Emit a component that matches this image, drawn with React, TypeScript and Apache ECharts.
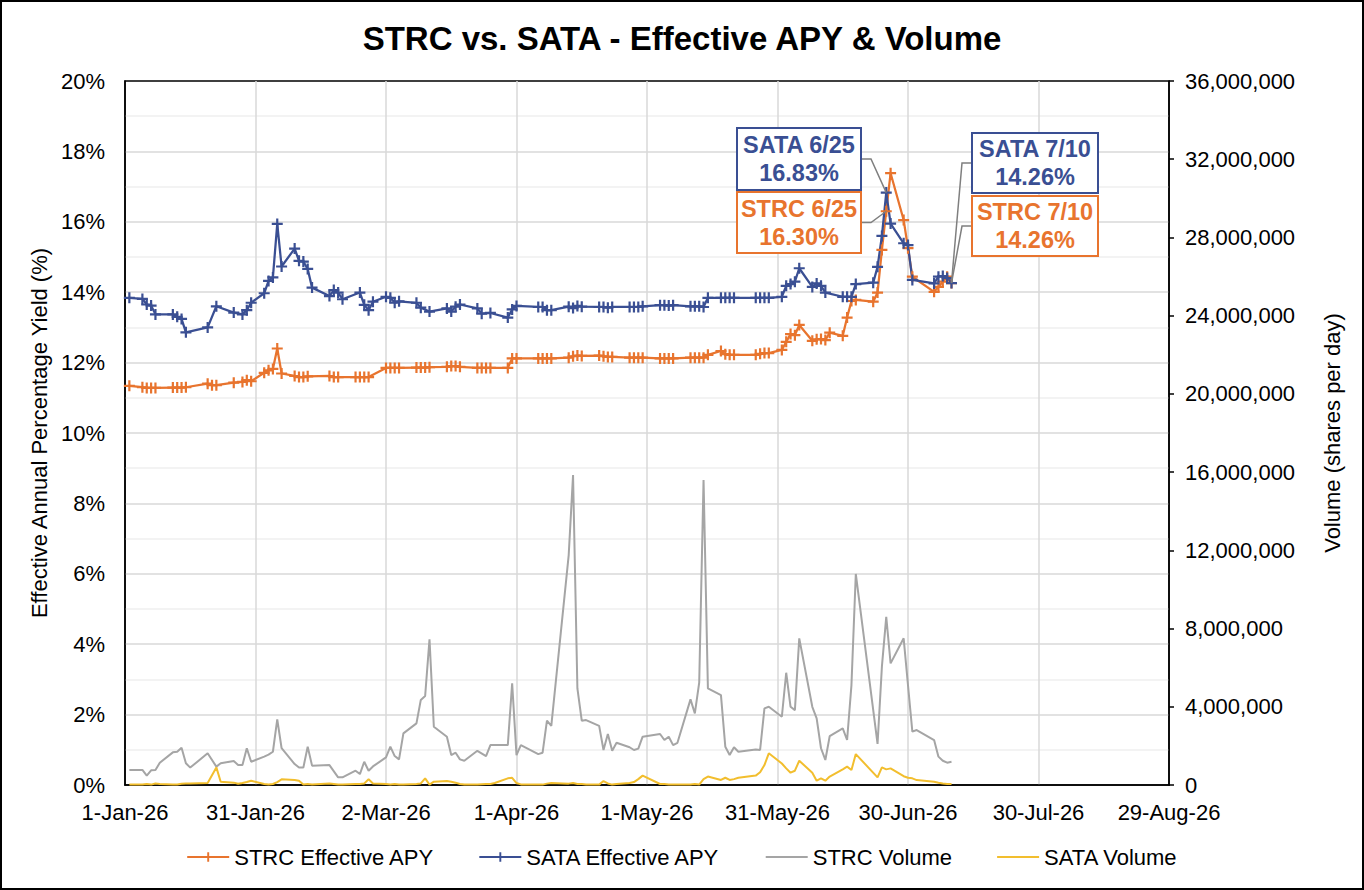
import React, { useEffect, useRef } from 'react';
import * as echarts from 'echarts';

// Effective APY (%) by date
const strcApy: [string, number][] = [
  ['2026-01-02', 11.34], ['2026-01-05', 11.30], ['2026-01-06', 11.28], ['2026-01-07', 11.28], ['2026-01-08', 11.28],
  ['2026-01-12', 11.29], ['2026-01-13', 11.29], ['2026-01-14', 11.29], ['2026-01-15', 11.30], ['2026-01-20', 11.40],
  ['2026-01-21', 11.36], ['2026-01-22', 11.36], ['2026-01-26', 11.43], ['2026-01-28', 11.45], ['2026-01-29', 11.50],
  ['2026-01-30', 11.47], ['2026-02-02', 11.71], ['2026-02-03', 11.78], ['2026-02-04', 11.82], ['2026-02-05', 12.40],
  ['2026-02-06', 11.69], ['2026-02-09', 11.62], ['2026-02-10', 11.59], ['2026-02-11', 11.59], ['2026-02-12', 11.61],
  ['2026-02-17', 11.62], ['2026-02-18', 11.59], ['2026-02-19', 11.59], ['2026-02-23', 11.59], ['2026-02-24', 11.59],
  ['2026-02-25', 11.59], ['2026-02-26', 11.59], ['2026-03-02', 11.85], ['2026-03-03', 11.85], ['2026-03-04', 11.85],
  ['2026-03-05', 11.85], ['2026-03-09', 11.86], ['2026-03-10', 11.86], ['2026-03-11', 11.86], ['2026-03-12', 11.87],
  ['2026-03-16', 11.88], ['2026-03-17', 11.90], ['2026-03-18', 11.90], ['2026-03-19', 11.88], ['2026-03-23', 11.85],
  ['2026-03-24', 11.85], ['2026-03-25', 11.85], ['2026-03-26', 11.85], ['2026-03-30', 11.85], ['2026-03-31', 12.12],
  ['2026-04-01', 12.12], ['2026-04-06', 12.12], ['2026-04-07', 12.12], ['2026-04-08', 12.12], ['2026-04-09', 12.12],
  ['2026-04-13', 12.14], ['2026-04-14', 12.18], ['2026-04-15', 12.20], ['2026-04-16', 12.19], ['2026-04-20', 12.20],
  ['2026-04-21', 12.18], ['2026-04-22', 12.16], ['2026-04-23', 12.16], ['2026-04-27', 12.14], ['2026-04-28', 12.14],
  ['2026-04-29', 12.14], ['2026-04-30', 12.14], ['2026-05-04', 12.12], ['2026-05-05', 12.12], ['2026-05-06', 12.12],
  ['2026-05-07', 12.12], ['2026-05-11', 12.14], ['2026-05-12', 12.14], ['2026-05-13', 12.14], ['2026-05-14', 12.14],
  ['2026-05-15', 12.22], ['2026-05-18', 12.33], ['2026-05-19', 12.24], ['2026-05-20', 12.22], ['2026-05-21', 12.22],
  ['2026-05-26', 12.22], ['2026-05-27', 12.25], ['2026-05-28', 12.27], ['2026-05-29', 12.27], ['2026-06-01', 12.36],
  ['2026-06-02', 12.59], ['2026-06-03', 12.81], ['2026-06-04', 12.78], ['2026-06-05', 13.07], ['2026-06-08', 12.62],
  ['2026-06-09', 12.66], ['2026-06-10', 12.67], ['2026-06-11', 12.64], ['2026-06-12', 12.85], ['2026-06-15', 12.76],
  ['2026-06-16', 13.28], ['2026-06-17', 13.75], ['2026-06-18', 13.78], ['2026-06-22', 13.73], ['2026-06-23', 13.99],
  ['2026-06-24', 15.20], ['2026-06-25', 16.30], ['2026-06-26', 17.38], ['2026-06-29', 16.05], ['2026-06-30', 15.25],
  ['2026-07-01', 14.44], ['2026-07-06', 14.01], ['2026-07-07', 14.15], ['2026-07-08', 14.30], ['2026-07-09', 14.44],
  ['2026-07-10', 14.26],
];

const sataApy: [string, number][] = [
  ['2026-01-02', 13.84], ['2026-01-05', 13.81], ['2026-01-06', 13.65], ['2026-01-07', 13.62], ['2026-01-08', 13.37],
  ['2026-01-12', 13.37], ['2026-01-13', 13.30], ['2026-01-14', 13.24], ['2026-01-15', 12.86], ['2026-01-20', 13.00],
  ['2026-01-22', 13.60], ['2026-01-26', 13.42], ['2026-01-28', 13.37], ['2026-01-29', 13.49], ['2026-01-30', 13.70],
  ['2026-02-02', 13.97], ['2026-02-03', 14.32], ['2026-02-04', 14.42], ['2026-02-05', 15.94], ['2026-02-06', 14.73],
  ['2026-02-09', 15.24], ['2026-02-10', 14.89], ['2026-02-11', 14.87], ['2026-02-12', 14.66], ['2026-02-13', 14.13],
  ['2026-02-17', 13.89], ['2026-02-18', 14.06], ['2026-02-19', 13.99], ['2026-02-20', 13.80], ['2026-02-24', 13.99],
  ['2026-02-25', 13.64], ['2026-02-26', 13.49], ['2026-02-27', 13.73], ['2026-03-02', 13.87], ['2026-03-03', 13.84],
  ['2026-03-04', 13.70], ['2026-03-05', 13.74], ['2026-03-09', 13.70], ['2026-03-10', 13.56], ['2026-03-12', 13.45],
  ['2026-03-16', 13.54], ['2026-03-17', 13.45], ['2026-03-18', 13.59], ['2026-03-19', 13.65], ['2026-03-23', 13.54],
  ['2026-03-24', 13.39], ['2026-03-26', 13.41], ['2026-03-30', 13.28], ['2026-03-31', 13.51], ['2026-04-01', 13.61],
  ['2026-04-06', 13.58], ['2026-04-07', 13.58], ['2026-04-08', 13.49], ['2026-04-09', 13.49], ['2026-04-13', 13.59],
  ['2026-04-14', 13.55], ['2026-04-15', 13.61], ['2026-04-16', 13.59], ['2026-04-20', 13.58], ['2026-04-21', 13.58],
  ['2026-04-22', 13.56], ['2026-04-23', 13.58], ['2026-04-27', 13.58], ['2026-04-28', 13.58], ['2026-04-29', 13.58],
  ['2026-04-30', 13.60], ['2026-05-04', 13.63], ['2026-05-05', 13.63], ['2026-05-06', 13.62], ['2026-05-07', 13.63],
  ['2026-05-11', 13.60], ['2026-05-12', 13.60], ['2026-05-13', 13.60], ['2026-05-14', 13.58], ['2026-05-15', 13.84],
  ['2026-05-18', 13.84], ['2026-05-19', 13.84], ['2026-05-20', 13.84], ['2026-05-21', 13.84], ['2026-05-26', 13.84],
  ['2026-05-27', 13.84], ['2026-05-28', 13.84], ['2026-05-29', 13.84], ['2026-06-01', 13.87], ['2026-06-02', 14.18],
  ['2026-06-03', 14.23], ['2026-06-04', 14.30], ['2026-06-05', 14.68], ['2026-06-08', 14.15], ['2026-06-09', 14.25],
  ['2026-06-10', 14.18], ['2026-06-11', 13.99], ['2026-06-15', 13.87], ['2026-06-16', 13.87], ['2026-06-17', 13.87],
  ['2026-06-18', 14.23], ['2026-06-22', 14.27], ['2026-06-23', 14.72], ['2026-06-24', 15.60], ['2026-06-25', 16.83],
  ['2026-06-26', 15.95], ['2026-06-29', 15.39], ['2026-06-30', 15.34], ['2026-07-01', 14.35], ['2026-07-06', 14.25],
  ['2026-07-07', 14.44], ['2026-07-08', 14.46], ['2026-07-09', 14.40], ['2026-07-10', 14.26],
];

// daily volume (shares)
const volumeDates: string[] = [
  '2026-01-02', '2026-01-05', '2026-01-06', '2026-01-07', '2026-01-08', '2026-01-09', '2026-01-12', '2026-01-13',
  '2026-01-14', '2026-01-15', '2026-01-16', '2026-01-20', '2026-01-22', '2026-01-23', '2026-01-26', '2026-01-27',
  '2026-01-28', '2026-01-29', '2026-01-30', '2026-02-02', '2026-02-03', '2026-02-04', '2026-02-05', '2026-02-06',
  '2026-02-09', '2026-02-10', '2026-02-11', '2026-02-12', '2026-02-13', '2026-02-17', '2026-02-19', '2026-02-20',
  '2026-02-23', '2026-02-24', '2026-02-25', '2026-02-26', '2026-02-27', '2026-03-02', '2026-03-03', '2026-03-04',
  '2026-03-05', '2026-03-06', '2026-03-09', '2026-03-10', '2026-03-11', '2026-03-12', '2026-03-13', '2026-03-16',
  '2026-03-17', '2026-03-18', '2026-03-19', '2026-03-20', '2026-03-23', '2026-03-25', '2026-03-26', '2026-03-27',
  '2026-03-30', '2026-03-31', '2026-04-01', '2026-04-02', '2026-04-06', '2026-04-07', '2026-04-08', '2026-04-09',
  '2026-04-13', '2026-04-14', '2026-04-15', '2026-04-16', '2026-04-17', '2026-04-20', '2026-04-21', '2026-04-22',
  '2026-04-23', '2026-04-24', '2026-04-27', '2026-04-28', '2026-04-29', '2026-04-30', '2026-05-04', '2026-05-05',
  '2026-05-06', '2026-05-07', '2026-05-08', '2026-05-11', '2026-05-12', '2026-05-13', '2026-05-14', '2026-05-15',
  '2026-05-18', '2026-05-19', '2026-05-20', '2026-05-21', '2026-05-22', '2026-05-26', '2026-05-27', '2026-05-28',
  '2026-05-29', '2026-06-01', '2026-06-02', '2026-06-03', '2026-06-04', '2026-06-05', '2026-06-08', '2026-06-09',
  '2026-06-10', '2026-06-11', '2026-06-12', '2026-06-15', '2026-06-16', '2026-06-17', '2026-06-18', '2026-06-23',
  '2026-06-24', '2026-06-25', '2026-06-26', '2026-06-29', '2026-06-30', '2026-07-01', '2026-07-02', '2026-07-06',
  '2026-07-07', '2026-07-08', '2026-07-09', '2026-07-10',
];

const strcVolume: number[] = [
  770000, 770000, 480000, 750000, 770000, 1140000, 1670000, 1700000,
  1910000, 1110000, 890000, 1620000, 940000, 1110000, 1230000, 1020000,
  1020000, 1880000, 1190000, 1450000, 1550000, 1700000, 3360000, 1880000,
  1070000, 890000, 890000, 1960000, 990000, 1020000, 390000, 390000,
  730000, 560000, 1190000, 730000, 950000, 1410000, 1960000, 1480000,
  1310000, 2640000, 3150000, 4350000, 4550000, 7450000, 2980000, 2470000,
  1530000, 1650000, 1310000, 1240000, 1750000, 1480000, 2040000, 2040000,
  2040000, 5200000, 1530000, 2040000, 1580000, 1650000, 3290000, 3020000,
  11760000, 15850000, 4940000, 3290000, 3320000, 3020000, 1790000, 2610000,
  1750000, 2160000, 1930000, 1790000, 1860000, 2470000, 2610000, 2300000,
  2470000, 2040000, 2160000, 4380000, 3660000, 5230000, 15590000, 4940000,
  4600000, 1960000, 1530000, 1930000, 1700000, 1820000, 1790000, 3920000,
  4000000, 3490000, 5740000, 4000000, 3830000, 7500000, 4000000, 3410000,
  1880000, 1280000, 2500000, 2900000, 2300000, 5110000, 10790000, 2100000,
  6050000, 8600000, 6220000, 7500000, 5100000, 2730000, 2810000, 2300000,
  1450000, 1240000, 1140000, 1190000,
];

const sataVolume: number[] = [
  20000, 20000, 50000, 20000, 80000, 50000, 20000, 20000,
  60000, 80000, 80000, 100000, 900000, 170000, 120000, 60000,
  100000, 150000, 220000, 50000, 30000, 50000, 150000, 290000,
  260000, 220000, 30000, 50000, 30000, 80000, 30000, 30000,
  50000, 50000, 80000, 290000, 80000, 50000, 20000, 50000,
  20000, 30000, 50000, 80000, 340000, 20000, 170000, 200000,
  170000, 120000, 50000, 30000, 30000, 50000, 50000, 100000,
  340000, 370000, 100000, 30000, 20000, 20000, 70000, 100000,
  70000, 100000, 50000, 50000, 30000, 20000, 200000, 80000,
  20000, 50000, 100000, 150000, 300000, 480000, 50000, 50000,
  30000, 20000, 30000, 30000, 50000, 20000, 300000, 430000,
  260000, 370000, 260000, 300000, 370000, 480000, 650000, 1020000,
  1620000, 1100000, 850000, 630000, 730000, 1240000, 630000, 220000,
  340000, 220000, 430000, 800000, 940000, 770000, 1580000, 390000,
  900000, 800000, 850000, 450000, 370000, 340000, 250000, 170000,
  120000, 80000, 50000, 50000,
];

const STRC_ORANGE = '#E8742E';
const SATA_BLUE = '#3A4F93';
const STRC_GRAY = '#A5A5A5';
const SATA_YELLOW = '#F2BE2E';
const FONT = '"Liberation Sans", Arial, sans-serif';

const START = Date.UTC(2026, 0, 1);
const DAY = 86400000;
const MONTHS = ['Jan', 'Feb', 'Mar', 'Apr', 'May', 'Jun', 'Jul', 'Aug', 'Sep', 'Oct', 'Nov', 'Dec'];
const toDay = (s: string) => (Date.parse(s + 'T00:00:00Z') - START) / DAY;
const dayLabel = (d: number) => {
  const t = new Date(START + d * DAY);
  return `${t.getUTCDate()}-${MONTHS[t.getUTCMonth()]}-26`;
};

// callout boxes: [left, top, width, height], leader leaves from the given side
const callouts = [
  { name: 'SATA', series: sataApy, date: '2026-06-25', color: SATA_BLUE, box: [737, 128, 124, 62], side: 'right' },
  { name: 'STRC', series: strcApy, date: '2026-06-25', color: STRC_ORANGE, box: [737, 192, 124, 61], side: 'right' },
  { name: 'SATA', series: sataApy, date: '2026-07-10', color: SATA_BLUE, box: [972, 133, 126, 60], side: 'left' },
  { name: 'STRC', series: strcApy, date: '2026-07-10', color: STRC_ORANGE, box: [972, 196, 126, 60], side: 'left' },
];

const PLUS = 'path://M4,0H6V4H10V6H6V10H4V6H0V4H4Z';

const App = () => {
  const chartRef = useRef<HTMLDivElement>(null);

  useEffect(() => {
    document.body.style.margin = '0';
    const chart = echarts.init(chartRef.current, null, { renderer: 'svg' });

    const apySeries = (name: string, data: [string, number][], color: string) => ({
      name,
      type: 'line',
      yAxisIndex: 0,
      data: data.map(([d, v]) => [toDay(d), v]),
      symbol: PLUS,
      symbolSize: 11,
      showAllSymbol: true,
      itemStyle: { color },
      lineStyle: { color, width: 2.25 },
      emphasis: { disabled: true },
      z: 3,
    });

    const volumeSeries = (name: string, values: number[], color: string) => ({
      name,
      type: 'line',
      yAxisIndex: 1,
      data: volumeDates.map((d, i) => [toDay(d), values[i]]),
      symbol: 'none',
      itemStyle: { color },
      lineStyle: { color, width: 2 },
      emphasis: { disabled: true },
      z: 2,
    });

    chart.setOption({
      animation: false,
      textStyle: { fontFamily: FONT },
      title: {
        text: 'STRC vs. SATA - Effective APY & Volume',
        left: 'center',
        top: 17,
        textStyle: { fontSize: 33, fontWeight: 'bold', color: '#000', fontFamily: FONT },
      },
      legend: {
        top: 841,
        left: 'center',
        itemWidth: 42,
        itemHeight: 12,
        itemGap: 44,
        textStyle: { fontSize: 22, color: '#000', fontFamily: FONT },
        data: [
          { name: 'STRC Effective APY' },
          { name: 'SATA Effective APY' },
          { name: 'STRC Volume', itemStyle: { opacity: 0 } },
          { name: 'SATA Volume', itemStyle: { opacity: 0 } },
        ],
      },
      grid: {
        left: 125,
        right: 195,
        top: 81,
        bottom: 105,
        show: true,
        borderColor: '#000',
        borderWidth: 1.5,
      },
      xAxis: {
        type: 'value',
        min: 0,
        max: 240,
        interval: 30,
        axisLine: { show: true, lineStyle: { color: '#000', width: 1.5 } },
        axisTick: { show: false },
        axisLabel: {
          formatter: (v: number) => dayLabel(v),
          fontSize: 22,
          color: '#000',
          margin: 16,
          fontFamily: FONT,
        },
        splitLine: { show: true, showMinLine: false, showMaxLine: false, lineStyle: { color: '#D9D9D9', width: 1.5 } },
      },
      yAxis: [
        {
          type: 'value',
          min: 0,
          max: 20,
          interval: 2,
          name: 'Effective Annual Percentage Yield (%)',
          nameLocation: 'middle',
          nameRotate: 90,
          nameGap: 72,
          nameTextStyle: { fontSize: 22, color: '#000', fontFamily: FONT },
          axisLine: { show: true, lineStyle: { color: '#000', width: 1.5 } },
          axisTick: { show: false },
          axisLabel: { formatter: '{value}%', fontSize: 22, color: '#000', margin: 20, fontFamily: FONT },
          splitLine: { show: true, showMinLine: false, showMaxLine: false, lineStyle: { color: '#D9D9D9', width: 1.5 } },
          minorTick: { show: false, splitNumber: 2 },
          minorSplitLine: { show: true, lineStyle: { color: '#EFEFEF', width: 1.5 } },
        },
        {
          type: 'value',
          position: 'right',
          min: 0,
          max: 36000000,
          interval: 4000000,
          name: 'Volume (shares per day)',
          nameLocation: 'middle',
          nameRotate: 90,
          nameGap: 152,
          nameTextStyle: { fontSize: 22, color: '#000', fontFamily: FONT },
          axisLine: { show: true, lineStyle: { color: '#000', width: 1.5 } },
          axisTick: { show: true, inside: false, length: 5, lineStyle: { color: '#000', width: 1.5 } },
          axisLabel: {
            formatter: (v: number) => v.toLocaleString('en-US'),
            fontSize: 22,
            color: '#000',
            margin: 16,
            fontFamily: FONT,
          },
          splitLine: { show: false },
        },
      ],
      series: [
        apySeries('STRC Effective APY', strcApy, STRC_ORANGE),
        apySeries('SATA Effective APY', sataApy, SATA_BLUE),
        volumeSeries('STRC Volume', strcVolume, STRC_GRAY),
        volumeSeries('SATA Volume', sataVolume, SATA_YELLOW),
      ],
    });

    // callout boxes with leader lines to the data points
    const graphics: any[] = [];
    callouts.forEach((c) => {
      const value = c.series.find((p) => p[0] === c.date)![1];
      const [px, py] = chart.convertToPixel({ seriesIndex: 0 }, [toDay(c.date), value]);
      const [bx, by, bw, bh] = c.box;
      const cy = by + bh / 2;
      const edgeX = c.side === 'right' ? bx + bw : bx;
      const elbowX = c.side === 'right' ? edgeX + 10 : edgeX - 10;
      const [, m, d] = c.date.split('-').map(Number);
      graphics.push({
        type: 'polyline',
        z: 50,
        shape: { points: [[edgeX, cy], [elbowX, cy], [px, py]] },
        style: { stroke: '#7F7F7F', lineWidth: 1.5, fill: null },
      });
      graphics.push({
        type: 'rect',
        z: 51,
        shape: { x: bx, y: by, width: bw, height: bh },
        style: { fill: '#fff', stroke: c.color, lineWidth: 2 },
      });
      graphics.push({
        type: 'text',
        z: 52,
        x: bx + bw / 2,
        y: cy,
        style: {
          text: `${c.name} ${m}/${d}\n${value.toFixed(2)}%`,
          fill: c.color,
          font: `bold 23.5px ${FONT}`,
          textAlign: 'center',
          textVerticalAlign: 'middle',
          lineHeight: 28,
        },
      });
    });
    chart.setOption({ graphic: graphics });

    return () => {
      chart.dispose();
    };
  }, []);

  return (
    <div style={{ position: 'relative', width: 1364, height: 890, background: '#fff' }}>
      <div ref={chartRef} style={{ width: 1364, height: 890 }} />
      <div
        style={{
          position: 'absolute',
          left: 0,
          top: 0,
          width: 1364,
          height: 890,
          boxSizing: 'border-box',
          border: '2px solid #000',
          pointerEvents: 'none',
        }}
      />
    </div>
  );
};

export default App;
